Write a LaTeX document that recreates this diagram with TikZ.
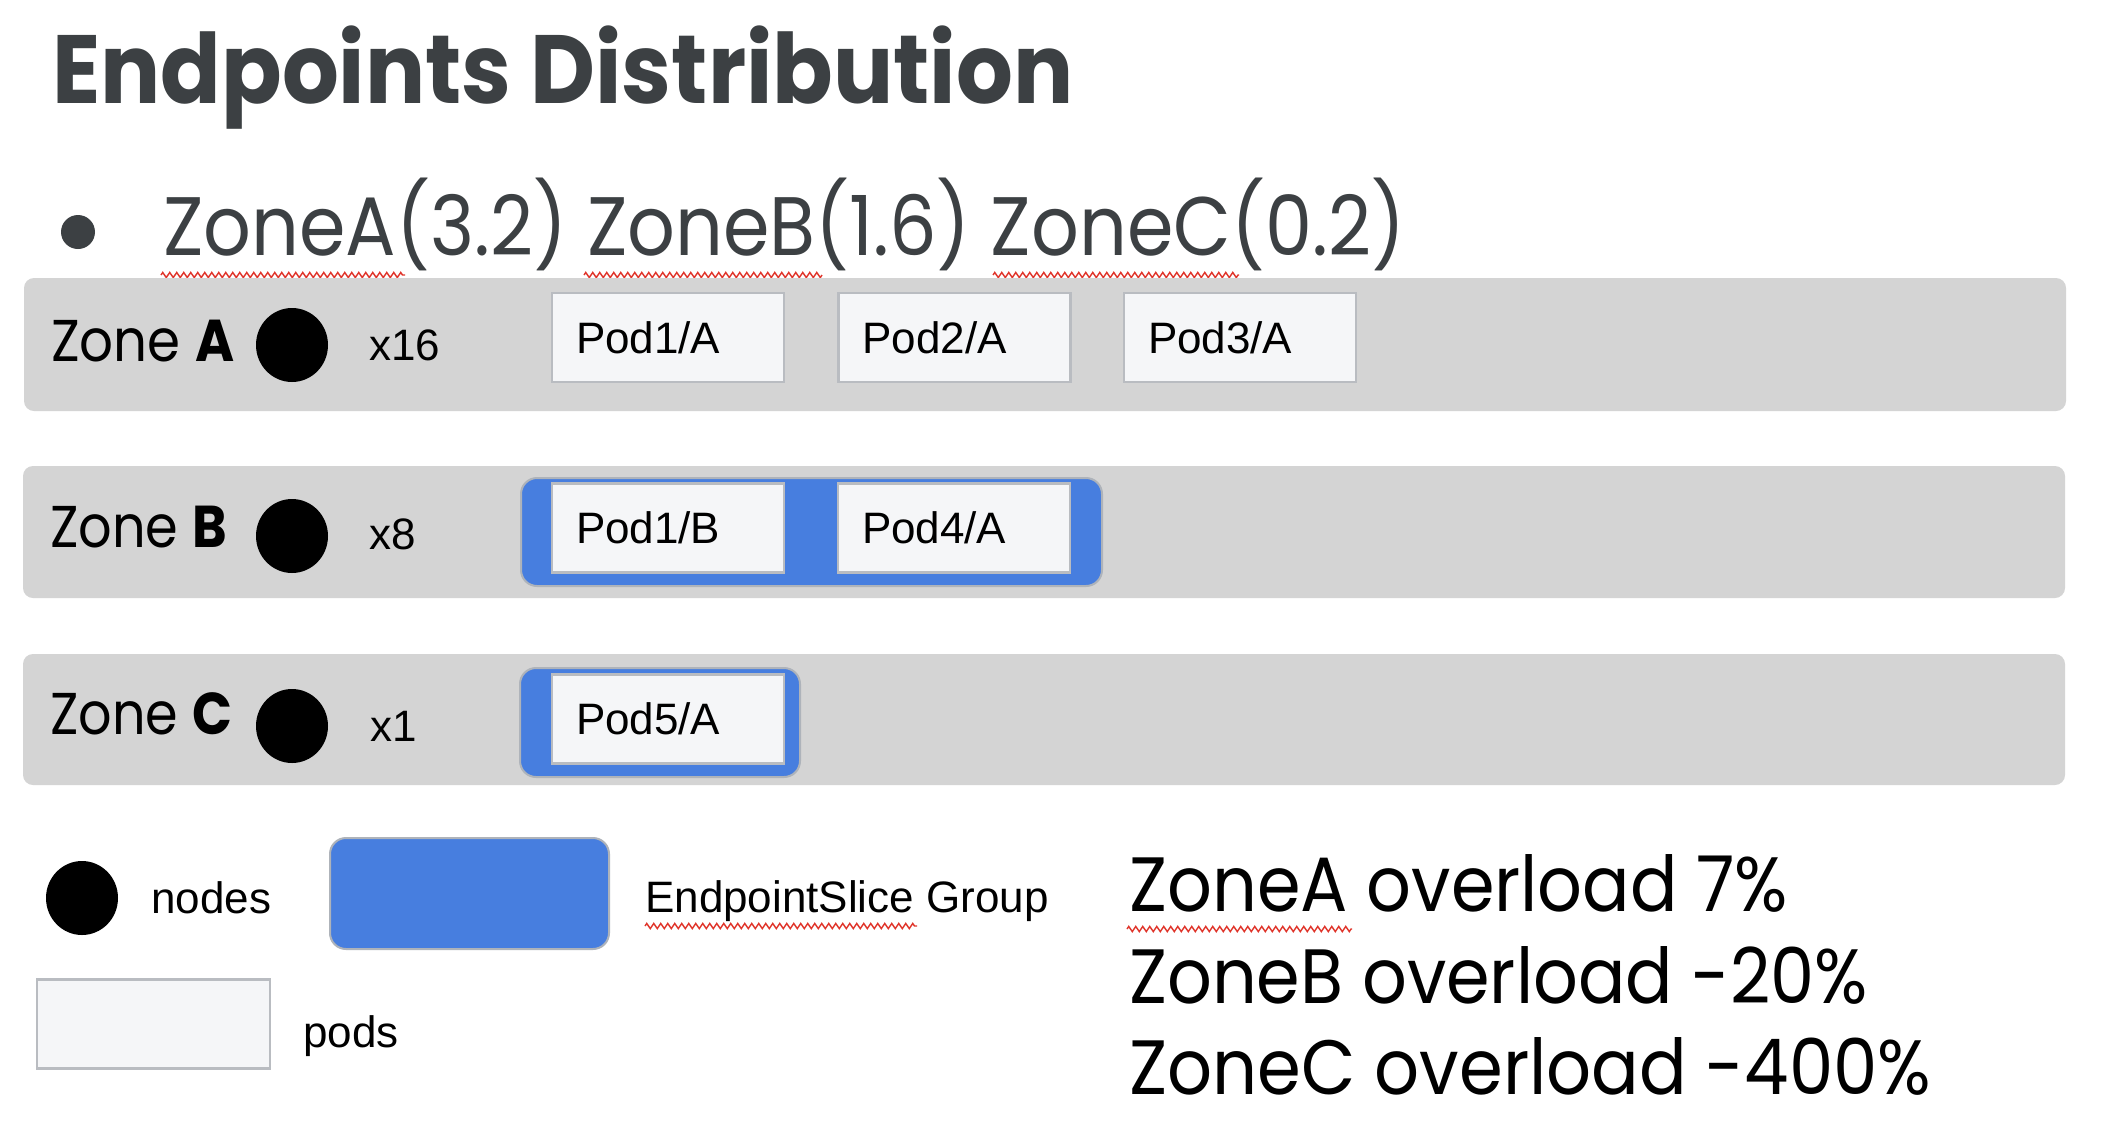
\documentclass[tikz,border=0pt]{standalone}
\usepackage{fontspec}
\usepackage{graphicx}
\setmainfont{Poppins}
\newfontfamily\arialish{Liberation Sans}
\usetikzlibrary{shapes.geometric,decorations.pathmorphing}

% stretch or squeeze a text horizontally to a given width (in pt), keeping its height
\newcommand{\fitw}[2]{\resizebox{#1pt}{\height}{#2}}

\definecolor{slategray}{HTML}{3C4043}
\definecolor{zonefill}{HTML}{D4D4D4}
\definecolor{podfill}{HTML}{F5F6F8}
\definecolor{podline}{HTML}{B9BCC1}
\definecolor{slicefill}{HTML}{477EDF}
\definecolor{sliceline}{HTML}{AEB3BA}
\definecolor{spellred}{HTML}{E0352B}

\tikzset{
  zonebar/.style={fill=zonefill, draw=none, rounded corners=10pt, inner sep=0, minimum width=2042pt},
  k8snode/.style={ellipse, fill=black, draw=none, minimum width=72pt, minimum height=74pt, inner sep=0},
  podbox/.style={rectangle, draw=podline, fill=podfill, line width=2.5pt,
    inner xsep=24pt, inner ysep=0pt, text width=184pt, align=left,
    minimum height=89pt, text height=31.5pt, text depth=0pt,
    font=\arialish\fontsize{44}{50}\selectfont},
  slicegroup/.style={rectangle, fill=slicefill, draw=sliceline, line width=2pt,
    rounded corners=16pt, inner sep=0},
  zonelabel/.style={anchor=base west, inner sep=0, font=\fontsize{59}{70}\selectfont},
  countlabel/.style={anchor=base west, inner sep=0, font=\arialish\fontsize{44}{50}\selectfont},
  overload/.style={anchor=base west, inner sep=0, font=\fontsize{77}{90}\selectfont},
  spell/.style={draw=spellred, line width=1.4pt, decorate,
    decoration={zigzag, amplitude=2.6pt, segment length=7pt}},
}

\begin{document}
\begin{tikzpicture}[x=1pt, y=-1pt]
  \fill[white] (0,0) rectangle (2118,1128);
  \useasboundingbox (0,0) rectangle (2118,1128);

  % heading and bullet line
  \node (title) [anchor=base west, inner sep=0, text=slategray,
    font=\fontsize{97}{110}\selectfont\bfseries] at (52,103)
    {\fitw{1021}{Endpoints Distribution}};
  \node (bulletdot) [circle, fill=slategray, minimum size=34pt, inner sep=0] at (78,232) {};
  \node (weights) [anchor=base west, inner sep=0, text=slategray,
    font=\fontsize{83}{95}\selectfont] at (163,255)
    {\fitw{1242}{ZoneA(3.2) ZoneB(1.6) ZoneC(0.2)}};
  \draw[spell] (161,275) -- (405,275);
  \draw[spell] (584,275) -- (822,275);
  \draw[spell] (993,275) -- (1239,275);

  % zone bars
  \node (zoneA) [zonebar, minimum height=133pt] at (1045,344.5) {};
  \node (zoneB) [zonebar, minimum height=132pt] at (1044,532) {};
  \node (zoneC) [zonebar, minimum height=131pt] at (1044,719.5) {};

  % zone A
  \node (labelA) [zonelabel] at (51,361) {\fitw{183}{Zone \textbf{A}}};
  \node (dotA) [k8snode] at (292,345) {};
  \node (countA) [countlabel] at (369,360) {x16};
  \node (podA1) [podbox] at (668,337.5) {Pod1/A};
  \node (podA2) [podbox] at (954.5,337.5) {Pod2/A};
  \node (podA3) [podbox] at (1240,337.5) {Pod3/A};

  % zone B
  \node (labelB) [zonelabel] at (50,547) {\fitw{177}{Zone \textbf{B}}};
  \node (dotB) [k8snode] at (292,536) {};
  \node (countB) [countlabel] at (369,549) {x8};
  \node (sliceB) [slicegroup, minimum width=581pt, minimum height=108pt] at (811.5,532) {};
  \node (podB1) [podbox] at (668,528) {Pod1/B};
  \node (podB4) [podbox] at (954,528) {Pod4/A};

  % zone C
  \node (labelC) [zonelabel] at (50,734) {\fitw{182}{Zone \textbf{C}}};
  \node (dotC) [k8snode] at (292,726) {};
  \node (countC) [countlabel] at (370,741) {x1};
  \node (sliceC) [slicegroup, minimum width=280pt, minimum height=109pt] at (660,722.5) {};
  \node (podC5) [podbox] at (668,719) {Pod5/A};

  % legend
  \node (legdot) [k8snode] at (82,898) {};
  \node (legnodes) [countlabel] at (151,913) {nodes};
  \node (legslice) [slicegroup, minimum width=279pt, minimum height=111pt] at (469.5,893.5) {};
  \node (legslicetext) [countlabel] at (645,912) {EndpointSlice Group};
  \draw[spell] (645,926) -- (917,926);
  \node (legpod) [podbox, text width=185pt, inner xsep=24pt, minimum height=89pt] at (153.5,1024) {};
  \node (legpods) [countlabel] at (303,1047) {pods};

  % overload figures
  \node (overA) [overload] at (1129,911) {\fitw{659}{ZoneA overload 7\%}};
  \node (overB) [overload] at (1129,1003) {\fitw{739}{ZoneB overload -20\%}};
  \node (overC) [overload] at (1129,1094) {\fitw{802}{ZoneC overload -400\%}};
  \draw[spell] (1127,929) -- (1352,929);
\end{tikzpicture}
\end{document}
